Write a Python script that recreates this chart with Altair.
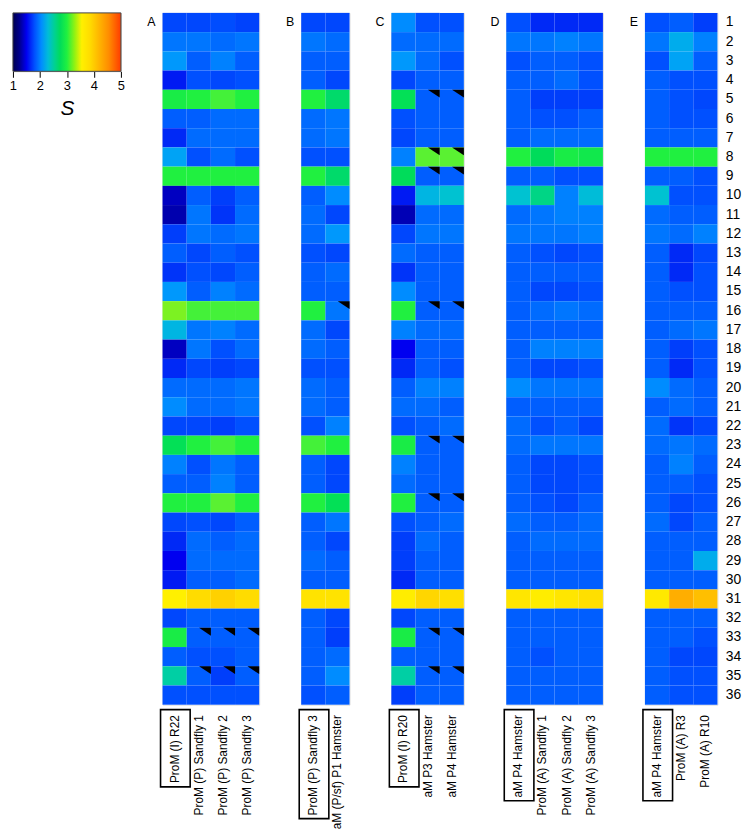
import altair as alt
import pandas as pd

rows = list(range(1, 37))

# ---- column names per panel ----
cols_A = ["ProM (I) R22", "ProM (P) Sandfly 1", "ProM (P) Sandfly 2", "ProM (P) Sandfly 3"]
cols_B = ["ProM (P) Sandfly 3", "aM (P/sf) P1 Hamster"]
cols_C = ["ProM (I) R20", "aM P3 Hamster", "aM P4 Hamster"]
cols_D = ["aM P4 Hamster", "ProM (A) Sandfly 1", "ProM (A) Sandfly 2", "ProM (A) Sandfly 3"]
cols_E = ["aM P4 Hamster", "ProM (A) R3", "ProM (A) R10"]

# ---- S values (rows 1..36) per column ----
A1 = [1.75,1.95,2.1,1.55,2.95,1.85,1.6,2.15,3.0,1.38,1.33,1.7,1.85,1.65,2.1,3.2,2.25,1.38,1.6,1.9,2.05,1.75,2.8,2.0,1.85,3.0,1.75,1.6,1.5,1.55,3.55,1.75,2.95,1.85,2.5,1.8]
A2 = [1.75,1.95,1.85,1.8,3.0,1.85,1.9,1.8,3.0,1.85,1.95,1.95,1.75,1.8,1.85,3.05,1.95,1.95,1.75,1.9,1.9,1.75,3.0,1.8,1.85,3.0,1.8,1.9,1.9,1.85,3.85,1.85,1.85,1.8,1.85,1.8]
A3 = [1.78,1.9,2.0,1.75,3.05,1.9,1.9,1.9,3.0,1.7,1.65,1.9,1.85,1.75,2.0,3.05,2.0,1.8,1.7,1.9,1.9,1.7,3.05,1.95,2.0,3.1,1.75,1.85,1.9,1.85,3.95,1.85,1.85,1.8,1.7,1.8]
A4 = [1.72,1.95,1.85,1.8,3.0,1.9,1.9,1.8,3.0,1.85,1.9,1.95,1.8,1.85,1.9,3.05,1.9,1.9,1.75,1.95,1.95,1.8,3.0,1.85,1.85,3.0,1.85,1.9,1.9,1.9,3.85,1.85,1.85,1.85,1.85,1.8]

B1 = [1.75,1.95,1.85,1.85,3.0,1.9,1.9,1.8,3.0,1.85,1.9,1.9,1.8,1.85,1.85,3.0,1.9,1.9,1.8,1.9,1.9,1.8,3.05,1.85,1.85,3.0,1.85,1.85,1.9,1.85,3.75,1.85,1.85,1.85,1.85,1.8]
B2 = [1.75,1.9,1.85,1.75,2.7,1.95,1.95,1.8,2.7,2.05,1.75,2.1,1.75,1.9,1.85,1.95,1.75,1.85,1.8,1.85,1.85,2.0,3.0,1.75,1.75,2.8,1.95,1.75,1.85,1.85,3.75,1.75,1.7,1.9,2.05,1.85]

C1 = [2.05,1.9,2.1,1.75,2.8,1.8,1.75,2.0,2.75,1.55,1.35,1.75,1.9,1.65,2.05,3.0,2.0,1.5,1.6,1.85,1.9,1.8,2.95,2.0,1.9,3.0,1.8,1.7,1.7,1.6,3.6,1.75,2.95,1.85,2.5,1.7]
C2 = [1.8,1.9,1.9,1.85,1.85,1.85,1.85,3.1,1.85,2.25,1.9,1.95,1.85,1.85,1.85,1.85,1.9,1.85,1.85,2.0,1.9,1.85,1.85,1.85,1.85,1.85,1.85,1.9,1.85,1.85,3.9,1.85,1.85,1.85,1.85,1.85]
C3 = [1.8,1.9,1.8,1.85,1.85,1.85,1.85,3.1,1.85,2.35,1.9,1.95,1.85,1.85,1.85,1.85,1.9,1.85,1.8,2.0,1.85,1.9,1.85,1.85,1.85,1.85,1.9,1.85,1.85,1.85,3.8,1.85,1.85,1.85,1.85,1.85]

D1 = [1.8,1.95,1.8,1.85,1.85,1.85,1.85,3.0,1.85,2.35,1.9,1.95,1.85,1.85,1.85,1.85,1.85,1.85,1.85,2.05,1.85,1.9,1.9,1.85,1.85,1.85,1.9,1.85,1.85,1.85,3.7,1.85,1.85,1.85,1.85,1.85]
D2 = [1.6,1.95,1.85,1.85,1.7,1.8,1.9,2.75,1.85,2.6,1.95,1.95,1.8,1.85,1.75,1.9,1.85,2.0,1.75,1.95,1.85,1.8,1.95,1.75,1.75,1.8,1.85,1.9,1.85,1.85,3.6,1.85,1.85,1.8,1.85,1.85]
D3 = [1.6,2.0,1.85,1.9,1.7,1.8,1.9,2.95,1.8,2.0,2.0,1.95,1.75,1.85,1.75,1.95,1.85,2.0,1.75,1.95,1.85,1.85,1.95,1.75,1.75,1.75,1.85,1.9,1.85,1.85,3.7,1.85,1.85,1.85,1.85,1.85]
D4 = [1.6,1.95,1.8,1.8,1.7,1.85,1.9,2.9,1.8,2.3,2.0,2.0,1.8,1.85,1.8,1.9,1.85,2.0,1.8,1.95,1.85,1.75,1.95,1.8,1.8,1.85,1.9,1.9,1.85,1.85,3.8,1.85,1.85,1.85,1.85,1.85]

E1 = [1.8,1.95,1.8,1.85,1.85,1.85,1.85,3.0,1.85,2.35,1.9,1.95,1.85,1.85,1.85,1.85,1.85,1.85,1.85,2.05,1.85,1.9,1.9,1.85,1.85,1.85,1.9,1.85,1.85,1.85,3.65,1.85,1.85,1.85,1.85,1.85]
E2 = [1.85,2.2,2.15,1.8,1.8,1.8,1.85,3.0,1.85,1.8,1.85,1.9,1.6,1.6,1.8,1.85,1.9,1.7,1.6,1.9,1.9,1.65,1.95,2.0,1.85,1.75,1.75,1.85,1.85,1.85,4.25,1.85,1.85,1.75,1.8,1.8]
E3 = [1.7,2.0,1.85,1.8,1.75,1.8,1.85,3.0,1.8,1.8,1.85,2.0,1.75,1.8,1.8,1.85,1.95,1.8,1.8,1.85,1.85,1.75,1.9,1.85,1.8,1.8,1.85,1.85,2.2,1.85,4.1,1.85,1.8,1.75,1.8,1.8]

# ---- marked cells (black corner triangles): (row, column index) ----
tri_A = [(33, 1), (33, 2), (33, 3), (35, 1), (35, 2), (35, 3)]
tri_B = [(16, 1)]
tri_C = [(r, c) for r in [5, 8, 9, 16, 23, 26, 33, 35] for c in [1, 2]]
tri_D = []
tri_E = []

# ---- colour map (jet-like) ----
S_MIN, S_MAX = 1, 5
S_TICKS = [1, 2, 3, 4, 5]
c_dom = [1.0, 1.25, 1.5, 1.8, 2.05, 2.3, 2.55, 2.75, 3.0, 3.3, 3.55, 3.85, 4.2, 4.55, 5.0]
c_rng = ["#000050", "#000090", "#0000f0", "#0050ff", "#008cff", "#00bcd8", "#00d290",
         "#00dc5a", "#20f040", "#98f210", "#fff000", "#ffdc00", "#ffb400", "#ff8c00", "#ff3c00"]

# ---- style ----
CW = 24.4      # column width
RH = 19.4      # row height
H = RH * 36
SANS = "Liberation Sans"
LABEL_FS = 12
box_lens = {"A": 78, "B": 110, "C": 78, "D": 92, "E": 92}

cscale = alt.Scale(domain=c_dom, range=c_rng, type="linear")

# ---- colour bar ----
cb_df = pd.DataFrame({"lo": [S_MIN], "hi": [S_MAX]})
grad = alt.LinearGradient(
    gradient="linear", x1=0, x2=1, y1=0, y2=0,
    stops=[alt.GradientStop(color=c, offset=(d - S_MIN) / (S_MAX - S_MIN))
           for d, c in zip(c_dom, c_rng)],
)
colorbar = alt.Chart(cb_df).mark_rect(fill=grad, stroke="#444444", strokeWidth=1).encode(
    x=alt.X("lo:Q", scale=alt.Scale(domain=[S_MIN, S_MAX], nice=False, zero=False),
            axis=alt.Axis(values=S_TICKS, tickSize=6, tickColor="black", tickWidth=1,
                          domain=False, grid=False, labelFlush=False, labelPadding=2,
                          labelFont=SANS, labelFontSize=13, labelColor="black",
                          title="S", titleFont=SANS, titleFontSize=21,
                          titleFontStyle="italic", titleFontWeight="normal",
                          titleColor="black", titlePadding=6)),
    x2="hi:Q",
).properties(width=109, height=59)


def panel(letter, cols, values, tri, box_len, show_rows):
    for v in values:
        assert len(v) == 36
    df = pd.DataFrame([
        {"row": r, "col": c, "S": values[j][i]}
        for j, c in enumerate(cols) for i, r in enumerate(rows)
    ])
    xenc = alt.X("col:N", sort=cols, title=None,
                 scale=alt.Scale(paddingInner=0, paddingOuter=0),
                 axis=alt.Axis(labelAngle=270, ticks=False, domain=False, labelPadding=10,
                               labelFont=SANS, labelFontSize=LABEL_FS, labelColor="black",
                               labelLimit=300))
    if show_rows:
        yaxis = alt.Axis(orient="right", ticks=False, domain=False, labelPadding=8,
                         labelFont=SANS, labelFontSize=14, labelColor="black", title=None)
    else:
        yaxis = None
    yenc = alt.Y("row:O", sort=rows, title=None,
                 scale=alt.Scale(paddingInner=0, paddingOuter=0), axis=yaxis)
    heat = alt.Chart(df).mark_rect().encode(
        x=xenc, y=yenc,
        color=alt.Color("S:Q", scale=cscale, legend=None),
    )
    layers = [heat]
    if tri:
        tdf = pd.DataFrame([{"row": r, "col": cols[c]} for r, c in tri])
        tri_path = "M 0.3 -9.7 L 12.2 -9.7 L 12.2 -1.8 Z"
        layers.append(
            alt.Chart(tdf).mark_point(shape=tri_path, size=4, filled=True, color="black",
                                      opacity=1, strokeWidth=0)
            .encode(x=xenc, y=yenc)
        )
    box = alt.Chart(pd.DataFrame({"k": [0]})).mark_rect(
        fillOpacity=0, stroke="black", strokeWidth=1.6
    ).encode(x=alt.value(-2), x2=alt.value(CW + 3.5),
             y=alt.value(H + 5), y2=alt.value(H + 5 + box_len))
    layers.append(box)
    lab = alt.Chart(pd.DataFrame({"k": [0]})).mark_text(
        text=letter, align="right", baseline="alphabetic", fontSize=12.5,
        font=SANS, color="black"
    ).encode(x=alt.value(-7), y=alt.value(13))
    layers.append(lab)
    return alt.layer(*layers).properties(width=CW * len(cols), height=H)


pA = panel("A", cols_A, [A1, A2, A3, A4], tri_A, box_lens["A"], False)
pB = panel("B", cols_B, [B1, B2], tri_B, box_lens["B"], False)
pC = panel("C", cols_C, [C1, C2, C3], tri_C, box_lens["C"], False)
pD = panel("D", cols_D, [D1, D2, D3, D4], tri_D, box_lens["D"], False)
pE = panel("E", cols_E, [E1, E2, E3], tri_E, box_lens["E"], True)

chart = alt.hconcat(colorbar, pA, pB, pC, pD, pE, spacing=42, bounds="flush").properties(
    padding=0
).configure_view(strokeWidth=0).configure(background="white")

chart.save("out.html", embed_options={"renderer": "svg", "actions": False})
